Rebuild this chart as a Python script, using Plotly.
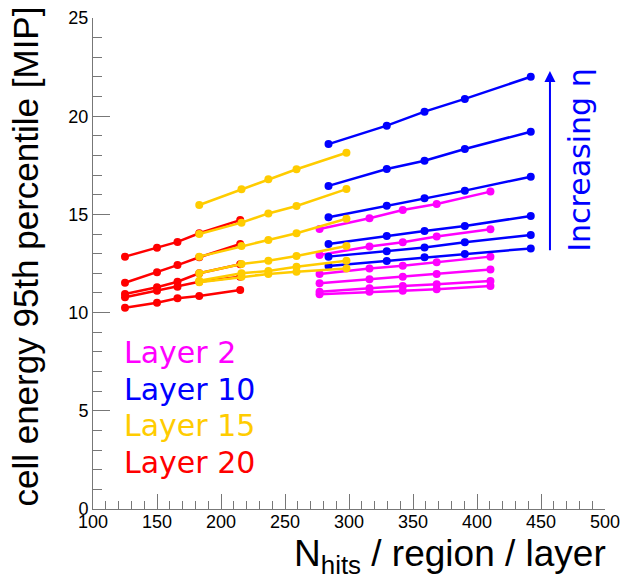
import plotly.graph_objects as go

# x positions (N_hits / region / layer) per layer
x_layer2 = [277, 316, 342, 368.5, 410.5]
x_layer10 = [284, 329.5, 359, 390.5, 442]
x_layer15 = [183, 216, 237, 259, 298]
x_layer20 = [125, 150, 166, 183, 215]

# 95th percentile values, one list per eta region
layer2 = [
    [14.26, 14.80, 15.22, 15.53, 16.16],
    [12.93, 13.36, 13.58, 13.87, 14.24],
    [11.97, 12.25, 12.39, 12.56, 12.85],
    [11.49, 11.70, 11.83, 11.97, 12.20],
    [11.06, 11.24, 11.35, 11.44, 11.61],
    [10.93, 11.06, 11.11, 11.19, 11.35],
]
layer10 = [
    [18.58, 19.52, 20.23, 20.88, 22.01],
    [16.45, 17.31, 17.73, 18.33, 19.21],
    [14.85, 15.44, 15.82, 16.21, 16.92],
    [13.49, 13.90, 14.15, 14.41, 14.92],
    [12.85, 13.12, 13.32, 13.58, 13.95],
    [12.37, 12.63, 12.82, 12.98, 13.27],
]
layer15 = [
    [15.48, 16.28, 16.79, 17.30, 18.14],
    [14.00, 14.58, 15.05, 15.43, 16.29],
    [12.85, 13.39, 13.70, 14.04, 14.78],
    [12.00, 12.47, 12.64, 12.88, 13.39],
    [11.62, 12.00, 12.12, 12.33, 12.64],
    [11.55, 11.83, 11.97, 12.08, 12.25],
]
layer20 = [
    [12.85, 13.30, 13.60, 14.04, 14.71],
    [11.52, 12.05, 12.42, 12.82, 13.49],
    [10.95, 11.29, 11.57, 12.00, 12.46],
    [10.78, 11.11, 11.32, 11.57, 11.83],
    [10.25, 10.50, 10.73, 10.85, 11.15],
]

layer_names = ["Layer 2", "Layer 10", "Layer 15", "Layer 20"]
colors = ["#ff00ff", "#0000ff", "#ffcc00", "#ff0000"]

x_ticks = [100, 150, 200, 250, 300, 350, 400, 450, 500]
y_ticks = [0, 5, 10, 15, 20, 25]

fig = go.Figure()

groups = [
    (x_layer2, layer2, colors[0]),
    (x_layer10, layer10, colors[1]),
    (x_layer20, layer20, colors[3]),
    (x_layer15, layer15, colors[2]),
]
for xs, series, col in groups:
    for ys in series:
        fig.add_trace(go.Scatter(
            x=xs, y=ys, mode="lines+markers",
            line=dict(color=col, width=2.5),
            marker=dict(color=col, size=8),
            showlegend=False, hoverinfo="skip",
        ))

axis_col = "#777777"
fig.update_xaxes(
    range=[100, 500], tickvals=x_ticks, ticktext=[str(v) for v in x_ticks],
    showline=True, linecolor=axis_col, linewidth=1,
    ticks="inside", ticklen=15, tickcolor=axis_col, tickwidth=1,
    minor=dict(ticks="inside", ticklen=8, dtick=10, tickcolor=axis_col, showgrid=False),
    showgrid=False, zeroline=False, automargin=False,
    ticklabelstandoff=-4,
    tickfont=dict(family="Liberation Sans", size=18, color="black"),
)
fig.update_yaxes(
    range=[0, 25], tickvals=y_ticks, ticktext=[str(v) for v in y_ticks],
    showline=True, linecolor=axis_col, linewidth=1,
    ticks="inside", ticklen=17, tickcolor=axis_col, tickwidth=1,
    minor=dict(ticks="inside", ticklen=9, dtick=1, tickcolor=axis_col, showgrid=False),
    showgrid=False, zeroline=False, automargin=False,
    tickfont=dict(family="Liberation Sans", size=18, color="black"),
)

annotations = [
    dict(text="cell energy 95th percentile [MIP]", xref="paper", yref="paper",
         x=-0.131, y=0.514, xanchor="center", yanchor="middle", textangle=-90,
         showarrow=False, font=dict(family="Liberation Sans", size=35, color="black")),
    dict(text="N<sub>hits</sub> / region / layer", xref="paper", yref="paper",
         x=1.006, y=-0.096, xanchor="right", yanchor="middle",
         showarrow=False, font=dict(family="Liberation Sans", size=37, color="black")),
    dict(text="Increasing η", xref="x", yref="y", x=480, y=17.75,
         xanchor="center", yanchor="middle", textangle=-90, showarrow=False,
         font=dict(family="DejaVu Sans", size=30, color="#0000ff")),
    dict(text="", xref="x", yref="y", axref="x", ayref="y",
         x=457, y=22.3, ax=457, ay=13.1, showarrow=True,
         arrowhead=2, arrowsize=1.1, arrowwidth=2, arrowcolor="#0000ff"),
]
label_y = [7.95, 6.06, 4.23, 2.39]
for name, col, yy in zip(layer_names, colors, label_y):
    annotations.append(dict(
        text=name, xref="x", yref="y", x=122.5, y=yy, xanchor="left", yanchor="middle",
        showarrow=False, font=dict(family="DejaVu Sans", size=30, color=col)))

fig.update_layout(
    width=630, height=579,
    margin=dict(l=93, r=25, t=18, b=70, autoexpand=False),
    paper_bgcolor="white", plot_bgcolor="white",
    annotations=annotations,
    showlegend=False,
)

fig.write_html("out.html", config={"displayModeBar": False},
               post_script="document.body.style.margin='0';document.body.style.overflow='hidden';")
